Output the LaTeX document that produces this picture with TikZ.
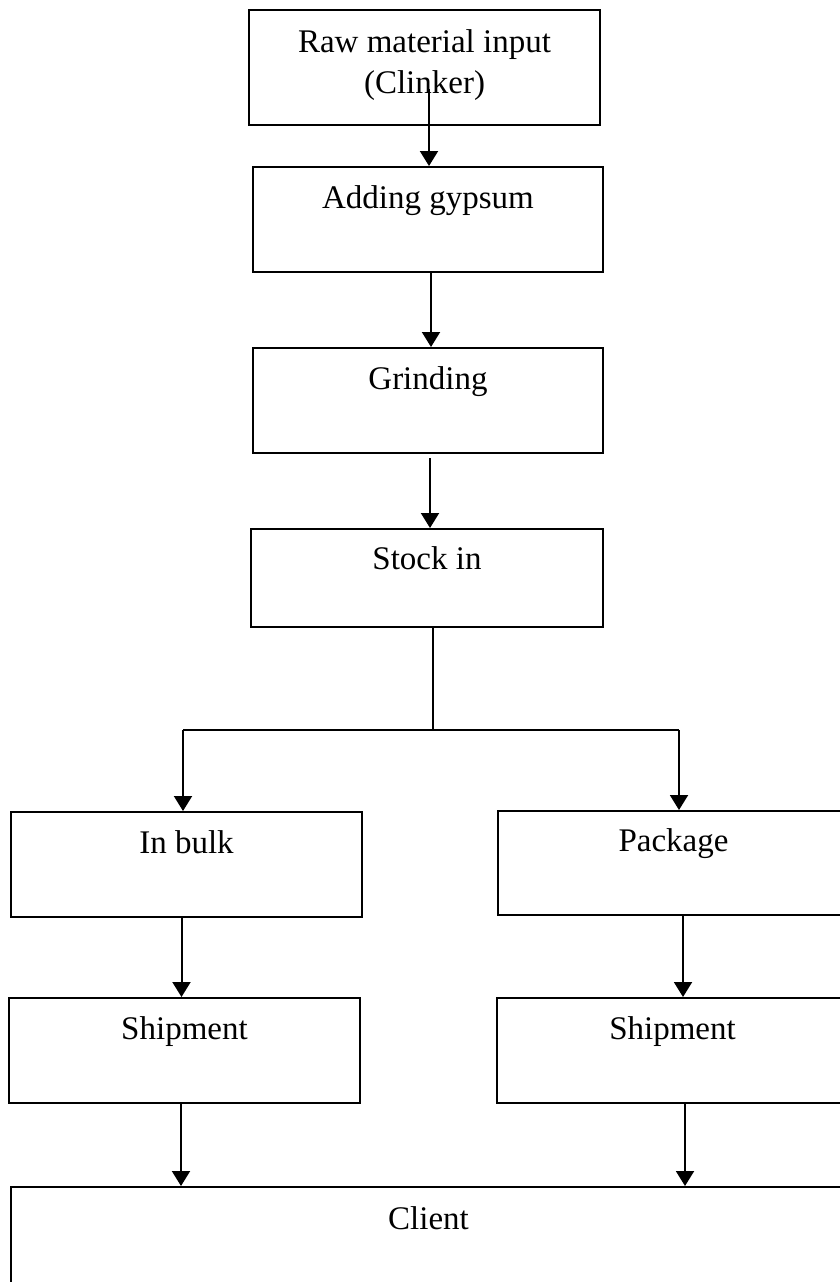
\documentclass[tikz,border=0pt]{standalone}
\usepackage{fontspec}
\setmainfont{Liberation Serif}
\usetikzlibrary{arrows.meta}

\begin{document}
\begin{tikzpicture}[x=1pt,y=-1pt,
  box/.style={draw,line width=2pt,inner sep=0pt},
  lbl/.style={inner sep=0pt,font=\fontsize{33}{41}\selectfont,align=center},
  line/.style={line width=2pt},
  arr/.style={line width=2pt,-{Triangle[width=18pt,length=15pt]}}]
\useasboundingbox (0,0) rectangle (840,1282);
\clip (0,0) rectangle (840,1282);

\node[box,minimum width=351pt,minimum height=115pt] (raw) at (424.5,67.5) {};
\node[box,minimum width=350pt,minimum height=105pt] (gyp) at (428,219.5) {};
\node[box,minimum width=350pt,minimum height=105pt] (grind) at (428,400.5) {};
\node[box,minimum width=352pt,minimum height=98pt] (stock) at (427,578) {};
\node[box,minimum width=351pt,minimum height=105pt] (bulk) at (186.5,864.5) {};
\node[box,minimum width=351pt,minimum height=104pt] (pack) at (673.5,863) {};
\node[box,minimum width=351pt,minimum height=105pt] (shipa) at (184.5,1050.5) {};
\node[box,minimum width=351pt,minimum height=105pt] (shipb) at (672.5,1050.5) {};
\node[box,minimum width=841pt,minimum height=113pt] (client) at (431.5,1243.5) {};

\node[lbl,anchor=north] (rawtxt) at ([yshift=-20pt]raw.north) {Raw material input\\(Clinker)};
\node[lbl,anchor=base] (gyptxt) at ([yshift=-42pt]gyp.north) {Adding gypsum};
\node[lbl,anchor=base] (grindtxt) at ([yshift=-42pt]grind.north) {Grinding};
\node[lbl,anchor=base] (stocktxt) at ([yshift=-41pt]stock.north) {Stock in};
\node[lbl,anchor=base] (bulktxt) at ([yshift=-42pt]bulk.north) {In bulk};
\node[lbl,anchor=base] (packtxt) at ([yshift=-41pt]pack.north) {Package};
\node[lbl,anchor=base] (shipatxt) at ([yshift=-42pt]shipa.north) {Shipment};
\node[lbl,anchor=base] (shipbtxt) at ([yshift=-42pt]shipb.north) {Shipment};
\node[lbl,anchor=base] (clienttxt) at ([xshift=-3pt,yshift=-43pt]client.north) {Client};

\draw[arr] ([xshift=4.5pt,yshift=37pt]raw.south) -- ([xshift=1pt]gyp.north);
\draw[arr] ([xshift=3pt]gyp.south) -- ([xshift=3pt]grind.north);
\draw[arr] ([xshift=2pt,yshift=-4pt]grind.south) -- ([xshift=3pt]stock.north);

% split into bulk and package
\coordinate (fork) at (433,730);
\coordinate (forkl) at (183,730);
\coordinate (forkr) at (679,730);
\draw[line] (fork |- stock.south) -- (fork);
\draw[line] (forkl) -- (forkr);
\draw[arr] (forkl) -- (forkl |- bulk.north);
\draw[arr] (forkr) -- (forkr |- pack.north);

\draw[arr] ([xshift=-5pt]bulk.south) -- ([xshift=-5pt]bulk.south |- shipa.north);
\draw[arr] ([xshift=9.5pt]pack.south) -- ([xshift=9.5pt]pack.south |- shipb.north);
\draw[arr] ([xshift=-3.5pt]shipa.south) -- ([xshift=-3.5pt]shipa.south |- client.north);
\draw[arr] ([xshift=12.5pt]shipb.south) -- ([xshift=12.5pt]shipb.south |- client.north);
\end{tikzpicture}
\end{document}
